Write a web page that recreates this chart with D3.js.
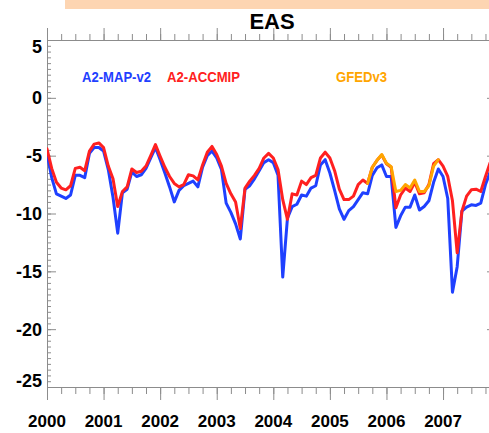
<!DOCTYPE html>
<html><head><meta charset="utf-8">
<script src="https://cdn.jsdelivr.net/npm/d3@7"></script>
<style>html,body{margin:0;padding:0;background:#fff;overflow:hidden}</style>
</head><body>
<svg id="c" width="489" height="433"></svg>
<script>
const title = "EAS";
const yearLabels = [2000, 2001, 2002, 2003, 2004, 2005, 2006, 2007];
const yTickValues = [5, 0, -5, -10, -15, -20, -25];
const seriesNames = ["A2-MAP-v2", "A2-ACCMIP", "GFEDv3"];
const seriesColors = ["#1f40ff", "#ff2020", "#ffa500"];
// monthly values starting Jan 2000
const mapV2 = [
 -4.8,-6.9,-8.3,-8.5,-8.7,-8.4,-6.7,-6.7,-6.9,-4.8,-4.3,-4.3,
 -4.6,-6.2,-8.6,-11.7,-8.2,-7.9,-6.4,-6.8,-6.65,-6.1,-5.2,-4.3,
 -5.35,-6.5,-7.7,-9.0,-8.0,-7.6,-7.4,-7.2,-7.7,-6.0,-5.0,-4.6,
 -5.2,-6.2,-9.1,-9.9,-10.9,-12.2,-7.9,-7.6,-7.0,-6.3,-5.6,-5.35,
 -5.6,-6.7,-15.5,-10.4,-9.4,-9.2,-8.4,-8.5,-7.8,-7.6,-5.8,-5.35,
 -6.5,-8.0,-9.6,-10.5,-9.75,-9.4,-8.8,-8.2,-8.3,-6.7,-6.05,-5.8,
 -6.8,-6.8,-11.2,-10.2,-9.45,-9.45,-8.4,-9.7,-9.4,-8.9,-7.3,-6.15,
 -6.8,-8.7,-16.8,-14.6,-9.8,-9.45,-9.25,-9.3,-9.1,-7.5,-6.4
];
const accmip = [
 -4.4,-6.1,-7.3,-7.8,-7.95,-7.6,-6.1,-6.0,-6.3,-4.6,-4.0,-3.9,
 -4.3,-5.9,-7.0,-9.4,-8.1,-7.7,-6.15,-6.45,-6.35,-5.9,-5.0,-4.05,
 -5.05,-6.0,-6.8,-7.4,-7.7,-7.5,-6.65,-6.75,-7.1,-5.8,-4.7,-4.2,
 -4.9,-5.9,-7.4,-8.3,-9.0,-11.3,-7.8,-7.2,-6.7,-6.1,-5.2,-4.8,
 -5.2,-6.2,-8.8,-10.5,-8.3,-8.4,-7.2,-7.5,-6.9,-6.7,-5.2,-4.7,
 -5.2,-6.3,-7.9,-8.8,-8.8,-8.5,-7.5,-7.1,-7.4,-6.0,-5.4,-4.95,
 -5.7,-6.0,-9.5,-8.4,-7.8,-8.1,-7.3,-8.3,-8.2,-7.5,-5.7,-5.35,
 -5.9,-6.8,-8.9,-13.4,-9.8,-8.5,-7.95,-7.9,-8.1,-6.8,-5.6
];
const gfedStartMonth = 68;
const gfed = [-7.4,-6.0,-5.4,-4.9,-5.65,-5.95,-8.1,-8.0,-7.5,-7.8,-7.1,-8.1,-8.1,-7.6,-5.9,-5.35];

const L = 47, R = 490, T = 40, B = 387;
const svg = d3.select("#c");
const x = d3.scaleLinear().domain([2000, 2007.83]).range([L, R]);
const y = d3.scaleLinear().domain([-25, 5]).range([B, T]);
const axisColor = "#8c8c8c";
const font = "'Liberation Sans', Arial, Helvetica, sans-serif";

// orange band at top
svg.append("rect").attr("x", 65).attr("y", 0).attr("width", 424).attr("height", 9).attr("fill", "#fdd5b2");

svg.append("text").attr("x", 272).attr("y", 29).attr("text-anchor", "middle")
  .attr("font-family", font).attr("font-weight", "bold").attr("font-size", 22).text(title);

// clip
svg.append("defs").append("clipPath").attr("id", "clip").append("rect")
  .attr("x", L).attr("y", T).attr("width", R - L).attr("height", B - T);

const quarterTicks = d3.range(2000, 2007.84, 0.25);
const yearTicks = d3.range(2000, 2008, 1);
const minorY = d3.range(-25, 5.01, 0.5);

function styleAxis(g) {
  g.selectAll("path.domain").attr("stroke", axisColor);
  g.selectAll(".tick line").attr("stroke", axisColor);
  g.selectAll(".tick text").remove();
}
// bottom axis
const gb1 = svg.append("g").attr("transform", `translate(0,${B})`)
  .call(d3.axisBottom(x).tickValues(quarterTicks).tickSize(7).tickSizeOuter(0));
styleAxis(gb1);
const gb2 = svg.append("g").attr("transform", `translate(0,${B})`)
  .call(d3.axisBottom(x).tickValues(yearTicks).tickSize(13).tickSizeOuter(0));
styleAxis(gb2); gb2.select("path.domain").remove();
// top axis
const gt1 = svg.append("g").attr("transform", `translate(0,${T})`)
  .call(d3.axisTop(x).tickValues(quarterTicks).tickSize(6).tickSizeOuter(0));
styleAxis(gt1);
const gt2 = svg.append("g").attr("transform", `translate(0,${T})`)
  .call(d3.axisTop(x).tickValues(yearTicks).tickSize(12).tickSizeOuter(0));
styleAxis(gt2); gt2.select("path.domain").remove();
// left axis (ticks inward)
const gl1 = svg.append("g").attr("transform", `translate(${L},0)`)
  .call(d3.axisRight(y).tickValues(minorY).tickSize(4).tickSizeOuter(0));
styleAxis(gl1);
const gl2 = svg.append("g").attr("transform", `translate(${L},0)`)
  .call(d3.axisRight(y).tickValues(yTickValues).tickSize(9).tickSizeOuter(0));
styleAxis(gl2); gl2.select("path.domain").remove();
// right axis (ticks inward)
const gr1 = svg.append("g").attr("transform", `translate(${R},0)`)
  .call(d3.axisLeft(y).tickValues(yTickValues).tickSize(3).tickSizeOuter(0));
styleAxis(gr1);

// tick labels
svg.append("g").selectAll("text").data(yTickValues).join("text")
  .attr("x", 42)
  .attr("y", d => y(d) + (d === 5 ? 7 : d === -25 ? -6 : 0))
  .attr("dy", "0.36em").attr("text-anchor", "end")
  .attr("font-family", font).attr("font-weight", "bold").attr("font-size", 18)
  .text(d => d);
svg.append("g").selectAll("text").data(yearLabels).join("text")
  .attr("x", d => x(d)).attr("y", 427).attr("text-anchor", "middle")
  .attr("font-family", font).attr("font-weight", "bold").attr("font-size", 17)
  .text(d => d);

// lines
const line = d3.line().x(d => x(2000 + d[0] / 12)).y(d => y(d[1]));
const plot = svg.append("g").attr("clip-path", "url(#clip)");
const blueData = mapV2.map((v, i) => [i, v]);
const redData = accmip.map((v, i) => [i, v]);
const orangeData = gfed.map((v, i) => [i + gfedStartMonth, v]);
[[blueData, 0], [redData, 1], [orangeData, 2]].forEach(([d, k]) => {
  plot.append("path").datum(d).attr("d", line).attr("fill", "none")
    .attr("stroke", seriesColors[k]).attr("stroke-width", 3)
    .attr("stroke-linejoin", "round").attr("stroke-linecap", "round");
});

// legend
const legendX = [82, 167, 336];
const legendW = [69, 73, 51];
svg.append("g").selectAll("text").data(seriesNames).join("text")
  .attr("x", (d, i) => legendX[i]).attr("y", 82)
  .attr("font-family", font).attr("font-weight", "bold").attr("font-size", 15)
  .attr("textLength", (d, i) => legendW[i]).attr("lengthAdjust", "spacingAndGlyphs")
  .attr("fill", (d, i) => seriesColors[i]).text(d => d);
</script>
</body></html>
